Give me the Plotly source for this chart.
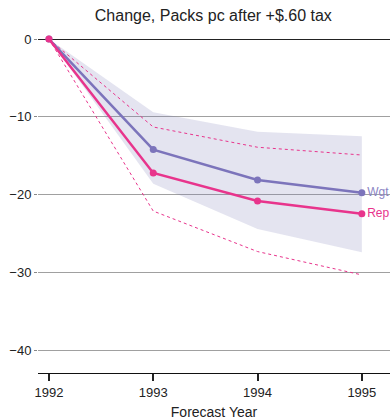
import plotly.graph_objects as go

years = [1992, 1993, 1994, 1995]
wgt = [0, -14.2, -18.1, -19.75]
rep = [0, -17.2, -20.8, -22.45]
band_upper = [0, -9.4, -11.9, -12.5]
band_lower = [0, -18.6, -24.4, -27.4]
dash_upper = [0, -11.3, -13.9, -14.9]
dash_lower = [0, -22.1, -27.3, -30.3]
ytick_vals = [0, -10, -20, -30, -40]
ytick_text = ["0", "\u221210", "\u221220", "\u221230", "\u221240"]

WGT = "#7c74bb"
REP = "#e8348c"
FONT = "Liberation Sans, Arial, sans-serif"

fig = go.Figure()
fig.add_trace(go.Scatter(x=years, y=band_upper, mode="lines", line=dict(width=0),
                         hoverinfo="skip", showlegend=False))
fig.add_trace(go.Scatter(x=years, y=band_lower, mode="lines", line=dict(width=0),
                         fill="tonexty", fillcolor="rgba(120,120,180,0.2)",
                         hoverinfo="skip", showlegend=False))
for d in (dash_upper, dash_lower):
    fig.add_trace(go.Scatter(x=years, y=d, mode="lines",
                             line=dict(color=REP, width=1, dash="3px,3px"),
                             showlegend=False))
fig.add_trace(go.Scatter(x=years, y=wgt, mode="lines+markers+text",
                         line=dict(color=WGT, width=2.5), marker=dict(size=7, color=WGT),
                         text=["", "", "", "Wgt"], textposition="middle right",
                         textfont=dict(color="#8a84c4", size=12, family=FONT),
                         cliponaxis=False, showlegend=False))
fig.add_trace(go.Scatter(x=years, y=rep, mode="lines+markers+text",
                         line=dict(color=REP, width=2.5), marker=dict(size=7, color=REP),
                         text=["", "", "", "Rep"], textposition="middle right",
                         textfont=dict(color=REP, size=12, family=FONT),
                         cliponaxis=False, showlegend=False))

fig.update_layout(
    width=390, height=420,
    margin=dict(l=38, r=0, t=30, b=47),
    paper_bgcolor="white", plot_bgcolor="white",
    font=dict(family=FONT, size=13, color="#222222"),
    title=dict(text="Change, Packs pc after +$.60 tax", x=0.547, xanchor="center",
               y=1 - 15 / 420, yanchor="middle", font=dict(size=16, color="#222222")),
    xaxis=dict(range=[1991.895, 1995.27], tickvals=years, ticktext=[str(y) for y in years],
               showgrid=False, zeroline=False, showline=True, linecolor="#111111", linewidth=1.2,
               ticks="outside", ticklen=7, tickcolor="#222222", tickwidth=1.5,
               title=dict(text="Forecast Year", standoff=8, font=dict(size=14))),
    yaxis=dict(range=[-42.9, 1.16], tickvals=ytick_vals, ticktext=ytick_text,
               showgrid=True, gridcolor="#a0a0a0", gridwidth=1,
               zeroline=True, zerolinecolor="#222222", zerolinewidth=1.2,
               showline=False, ticks="outside", ticklen=3, tickcolor="#888888"),
)
fig.write_html("out.html", config={"displayModeBar": False},
               post_script="document.body.style.margin='0';document.body.style.overflow='hidden';")
